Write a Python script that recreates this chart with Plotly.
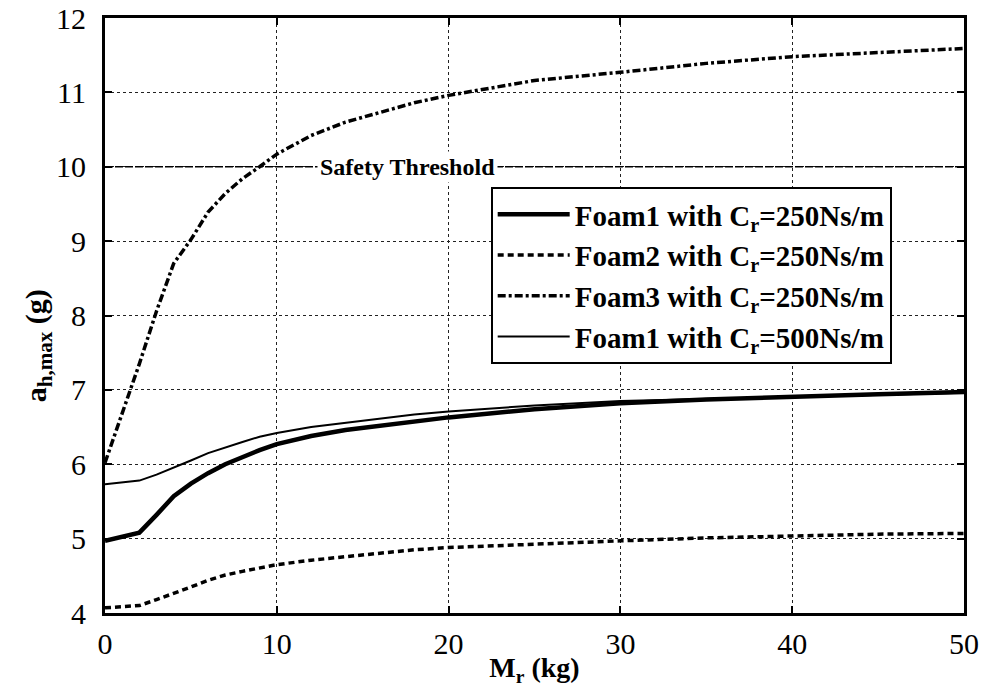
import plotly.graph_objects as go

# Rail mass M_r (kg)
mass_kg = [0, 1, 2, 3, 4, 5, 6, 7, 8, 9, 10, 12, 14, 16, 18, 20, 25, 30, 35, 40, 45, 50]

# Peak head acceleration a_h,max (g) for each foam / damping combination
foam1_c250 = [4.97, 5.02, 5.08, 5.32, 5.57, 5.74, 5.88, 6.00, 6.10, 6.19, 6.27,
              6.38, 6.46, 6.52, 6.58, 6.63, 6.74, 6.82, 6.87, 6.91, 6.94, 6.97]
foam2_c250 = [4.07, 4.08, 4.10, 4.18, 4.26, 4.35, 4.44, 4.51, 4.56, 4.61, 4.65,
              4.71, 4.76, 4.81, 4.85, 4.88, 4.93, 4.97, 5.01, 5.04, 5.06, 5.07]
foam3_c250 = [6.02, 6.68, 7.35, 8.06, 8.70, 9.02, 9.39, 9.64, 9.84, 10.00, 10.17,
              10.42, 10.60, 10.73, 10.86, 10.96, 11.16, 11.27, 11.39, 11.48, 11.53, 11.59]
foam1_c500 = [5.73, 5.75, 5.78, 5.86, 5.95, 6.05, 6.15, 6.23, 6.30, 6.37, 6.42,
              6.50, 6.56, 6.62, 6.67, 6.71, 6.79, 6.85, 6.88, 6.91, 6.94, 6.96]

series_names = [
    "Foam1 with C<sub>r</sub>=250Ns/m",
    "Foam2 with C<sub>r</sub>=250Ns/m",
    "Foam3 with C<sub>r</sub>=250Ns/m",
    "Foam1 with C<sub>r</sub>=500Ns/m",
]

SAFETY_THRESHOLD = 10
threshold_label = "Safety Threshold"
threshold_label_mass = 17.6

x_ticks = [0, 10, 20, 30, 40, 50]
y_ticks = [4, 5, 6, 7, 8, 9, 10, 11, 12]

SERIF = "Liberation Serif"

styles = [
    dict(width=4.5, dash="solid"),
    dict(width=3.5, dash="6px,4px"),
    dict(width=3.5, dash="8px,3px,3px,3px"),
    dict(width=2.0, dash="solid"),
]

fig = go.Figure()
for name, ys, st in zip(series_names, [foam1_c250, foam2_c250, foam3_c250, foam1_c500], styles):
    fig.add_trace(go.Scatter(
        x=mass_kg, y=ys, mode="lines", name=name,
        line=dict(color="black", width=st["width"], dash=st["dash"]),
    ))

# Safety threshold line with its label
fig.add_hline(y=SAFETY_THRESHOLD, line=dict(color="black", width=1.6, dash="8px,2px"))
fig.add_annotation(
    x=threshold_label_mass, y=SAFETY_THRESHOLD, text=f"<b>{threshold_label}</b>",
    showarrow=False, bgcolor="white", borderpad=2,
    font=dict(family=SERIF, size=24, color="black"),
)

# Y-axis title placed as a rotated annotation
fig.add_annotation(
    xref="paper", yref="paper", x=-0.078, y=0.45, xanchor="center", yanchor="middle",
    text="<b>a<sub>h,max</sub> (g)</b>", textangle=-90, showarrow=False,
    font=dict(family=SERIF, size=30, color="black"),
)

axis_common = dict(
    showline=True, linecolor="black", linewidth=3, mirror="allticks",
    ticks="inside", ticklen=7, tickwidth=2, tickcolor="black",
    showgrid=True, gridcolor="#222", gridwidth=1, griddash="dot",
    zeroline=False, automargin=False,
    tickfont=dict(family=SERIF, size=30, color="black"),
)

fig.update_xaxes(
    range=[0, 50], tickvals=x_ticks, ticklabelstandoff=2,
    title=dict(text="<b>M<sub>r</sub> (kg)</b>", standoff=0,
               font=dict(family=SERIF, size=28, color="black")),
    **axis_common,
)
fig.update_yaxes(
    range=[4, 12], tickvals=y_ticks, ticklabelstandoff=10,
    **axis_common,
)

fig.update_layout(
    width=987, height=687,
    margin=dict(l=105, r=23, t=18, b=74),
    paper_bgcolor="white", plot_bgcolor="white",
    showlegend=True,
    legend=dict(
        x=0.449, y=0.716, xanchor="left", yanchor="top",
        bgcolor="white", bordercolor="black", borderwidth=2,
        font=dict(family=SERIF, size=29, color="black", weight="bold"),
        tracegroupgap=0, itemwidth=72,
    ),
)

fig.write_html("out.html")
